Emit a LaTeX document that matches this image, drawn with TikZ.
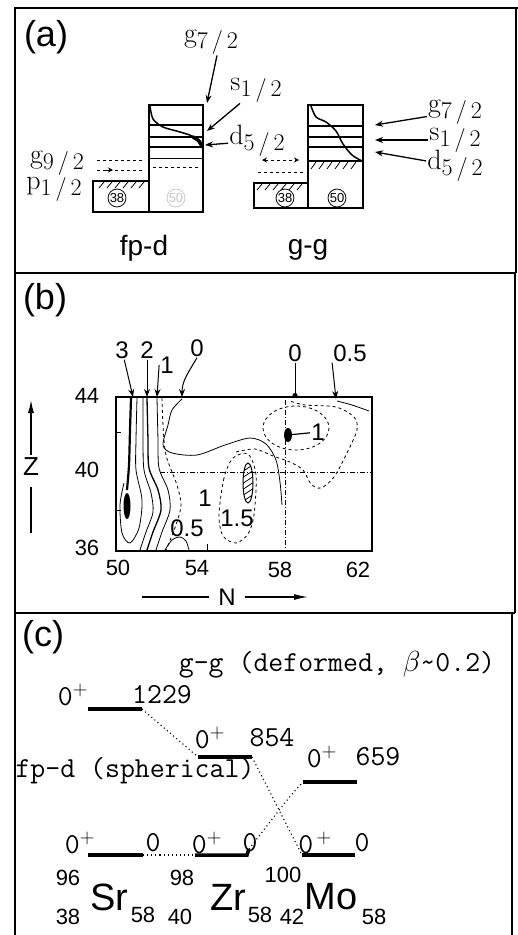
\RequirePackage{fix-cm}
\documentclass[tikz,border=0pt]{standalone}
\usepackage{fontspec}
\setsansfont{Liberation Sans}
\usetikzlibrary{arrows.meta,positioning}

\newcommand{\orbl}[2]{#1\raisebox{-0.5ex}{\fontsize{24}{24}\selectfont#2}}

\begin{document}
\begin{tikzpicture}[x=1pt,y=-1pt,
    frame/.style={line width=2pt},
    tag/.style={font=\sffamily\fontsize{36}{36}\selectfont, inner sep=0pt},
    orbtxt/.style={font=\fontsize{28}{28}\selectfont, inner sep=1pt},
    ptr/.style={-{Stealth[length=8pt,width=6pt]}, line width=1.3pt},
    shellbox/.style={line width=1.5pt},
    shell/.style={line width=2.2pt},
    nuc/.style={circle, draw, line width=0.8pt, inner sep=0.3pt, font=\sffamily\fontsize{13}{13}\selectfont},
    hatch/.style={line width=0.8pt},
    cont/.style={line width=0.8pt},
    dashdot/.style={line width=0.8pt, dash pattern=on 5pt off 2pt on 1pt off 2pt},
    num/.style={font=\sffamily\fontsize{22}{22}\selectfont, inner sep=1pt},
    tt/.style={font=\ttfamily\fontsize{29}{29}\selectfont, inner sep=0pt},
    lvl/.style={line width=3.5pt},
    link/.style={line width=1.1pt, dash pattern=on 1.1pt off 3pt},
    elem/.style={font=\sffamily\fontsize{38}{38}\selectfont, inner sep=0pt},
    mass/.style={font=\sffamily\fontsize{22}{22}\selectfont, inner sep=0pt}
]
\useasboundingbox (0,0) rectangle (518,935);

% panel frames
\draw[frame] (15,935) -- (15,8) -- (518,8);
\draw[frame] (516,8) -- (516,273);
\draw[frame] (15,273) -- (516,273);
\draw[frame] (515,273) -- (515,613);
\draw[frame] (15,613) -- (515,613);
\draw[frame] (512,613) -- (512,935);

%% (a) shell model pictures
\node[tag] (tagA) at (46,37) {(a)};

% fp-d
\draw[shellbox] (93,181) rectangle (149,212);
\draw[shellbox] (149,105) rectangle (203,212);
\draw[shell] (149,125) -- (203,125);
\draw[shell] (149,137) -- (203,137);
\draw[shell] (149,147) -- (203,147);
\draw[cont] (149,158) -- (203,158);
\draw[dashed] (97,160) -- (145,160);
\draw[dashed] (97,170) -- (145,170);
\draw[dashed] (153,167) -- (200,167);
\foreach \x in {99,107,...,139} \draw[hatch] (\x,188) -- ++(5,-6);
\draw[line width=1.5pt] plot[smooth] coordinates {(150,106) (153,119) (163,127) (180,132) (194,137) (202,147)};
\draw[line width=3.5pt, line cap=round] plot[smooth] coordinates {(193,137) (199,141) (202,147)};
\node[nuc] (n38a) at (117,198) {38};
\node[nuc, draw=gray!45, text=gray!45] (n50a) at (176,198) {50};
\coordinate (gapA) at (103,170);
\coordinate (gapB) at (113,170);
\draw[-{Stealth[length=5pt,width=5pt]}, line width=1pt] (gapA) -- (gapB);

\node[orbtxt] (g72a) at (211,42) {\orbl{g}{7\,/\,2}};
\node[orbtxt] (s12a) at (256,90) {\orbl{s}{1\,/\,2}};
\node[orbtxt] (d52a) at (257,141) {\orbl{d}{5\,/\,2}};
\node[orbtxt] (g92a) at (57,163) {\orbl{g}{9\,/\,2}};
\node[orbtxt] (p12a) at (54,189) {\orbl{p}{1\,/\,2}};
\coordinate (g72aEnd) at (207,103);
\coordinate (s12aEnd) at (207,131);
\coordinate (d52aEnd) at (205,145);
\draw[ptr] ([xshift=6pt]g72a.south) -- (g72aEnd);
\draw[ptr] (s12a) -- (s12aEnd);
\draw[ptr] (d52a) -- (d52aEnd);
\node[font=\sffamily\fontsize{28}{28}\selectfont] (fpd) at (144,248) {fp-d};

% g-g
\draw[shellbox] (254,183) rectangle (308,208);
\draw[shellbox] (308,105) rectangle (363,208);
\draw[shell] (308,126) -- (363,126);
\draw[shell] (308,137) -- (363,137);
\draw[shell] (308,147) -- (363,147);
\draw[line width=2.6pt] (308,161) -- (363,161);
\foreach \x in {311,319,...,355} \draw[hatch] (\x,169) -- ++(5,-7);
\foreach \x in {257,265,...,297} \draw[hatch] (\x,190) -- ++(5,-6);
\draw[dashed] (258,172) -- (305,172);
\coordinate (ggA) at (262,160);
\coordinate (ggB) at (299,160);
\draw[{Stealth[length=5pt,width=5pt]}-{Stealth[length=5pt,width=5pt]}, dashed, line width=1pt] (ggA) -- (ggB);
\draw[line width=1.5pt] plot[smooth] coordinates {(311,106) (316,117) (326,122) (336,131) (343,144) (352,155) (362,161)};
\node[nuc] (n38b) at (285,198) {38};
\node[nuc] (n50b) at (337,198) {50};

\node[orbtxt] (g72b) at (455,112) {\orbl{g}{7\,/\,2}};
\node[orbtxt] (s12b) at (455,140) {\orbl{s}{1\,/\,2}};
\node[orbtxt] (d52b) at (455,166) {\orbl{d}{5\,/\,2}};
\coordinate (g72bEnd) at (375,125);
\coordinate (s12bEnd) at (375,140);
\coordinate (d52bEnd) at (375,152);
\draw[ptr] (g72b) -- (g72bEnd);
\draw[ptr] (s12b) -- (s12bEnd);
\draw[ptr] (d52b) -- (d52bEnd);
\node[font=\sffamily\fontsize{28}{28}\selectfont] (gg) at (308,250) {g-g};

%% (b) contour map
\node[tag] (tagB) at (45,300) {(b)};

% grid lines
\draw[dashdot] (160,472) -- (372,472);
\draw[dashdot] (285,400) -- (285,551);
\draw[cont] (207,551) -- (207,544);
\draw[cont] (116,432) -- (121,432);
\draw[cont] (116,510) -- (121,510);

% contours
\draw[line width=2.2pt] plot[smooth] coordinates {(131,398) (130,430) (129,465) (127,490)};
\fill (127,506) ellipse (3.5 and 13);
\draw[cont] plot[smooth] coordinates {(137,398) (136,440) (136,470) (142,500) (139,528) (130,543) (122,533) (120,505) (124,483)};
\draw[cont] plot[smooth] coordinates {(143,398) (143,440) (144,470) (151,493) (153,512) (146,532) (140,550)};
\draw[line width=1.3pt] plot[smooth] coordinates {(147,398) (148,440) (149,468) (158,490) (161,510) (153,532) (147,550)};
\draw[cont] plot[smooth] coordinates {(157,398) (158,440) (159,468) (168,490) (170,510) (162,532) (156,550)};
\draw[cont, dashed] plot[smooth] coordinates {(162,398) (163,425) (166,455) (177,485) (181,505) (176,525) (166,550)};
\draw[cont] plot[smooth] coordinates {(182,399) (172,410) (168,425) (163,445) (172,453) (197,455) (225,445) (250,438) (266,444) (276,460) (280,482) (282,505)};
\draw[cont, dashed] plot[smooth] coordinates {(236,452) (255,449) (273,456) (290,462) (303,470) (311,484) (321,488) (334,477) (347,453) (357,430) (354,417) (336,407) (305,405) (290,401)};
\draw[cont, dashed] plot[smooth cycle] coordinates {(233,458) (224,478) (219,515) (223,536) (236,543) (248,534) (254,515) (256,475) (248,454)};
\draw[cont, dashed] (296,428) ellipse (33 and 22);
\draw[cont] plot[smooth] coordinates {(337,401) (352,405) (369,411)};
\draw[cont] plot[smooth] coordinates {(165,550) (172,540) (180,537) (186,541) (189,550)};

% hatched minimum and peak
\begin{scope}
  \clip (248,483) ellipse (5 and 20);
  \foreach \y in {462,468,...,504} \draw[hatch] (242,\y+4) -- (254,\y-4);
\end{scope}
\draw[line width=1pt] (248,483) ellipse (5 and 20);
\coordinate (pk) at (288,435);
\fill (pk) ellipse (4 and 7);
\node[num, font=\sffamily\fontsize{24}{24}\selectfont] (pk1) at (318,432) {1};
\draw[line width=1.2pt] (pk) -- (pk1);

\node[num, font=\sffamily\fontsize{24}{24}\selectfont] (in1) at (205,498) {1};
\node[num, font=\sffamily\fontsize{24}{24}\selectfont] (in05) at (187,528) {0.5};
\node[num, font=\sffamily\fontsize{24}{24}\selectfont] (in15) at (237,518) {1.5};

% frame of the map
\draw[line width=2pt] (116,397) rectangle (372,551);

% contour values on top
\node[num, font=\sffamily\fontsize{24}{24}\selectfont] (c3) at (122,350) {3};
\node[num, font=\sffamily\fontsize{24}{24}\selectfont] (c2) at (147,350) {2};
\node[num, font=\sffamily\fontsize{24}{24}\selectfont] (c1) at (167,365) {1};
\node[num, font=\sffamily\fontsize{24}{24}\selectfont] (c0) at (197,348) {0};
\node[num, font=\sffamily\fontsize{24}{24}\selectfont] (c0r) at (295,353) {0};
\node[num, font=\sffamily\fontsize{24}{24}\selectfont] (c05) at (350,353) {0.5};
\coordinate (t3) at (133,397);
\coordinate (t2) at (147,397);
\coordinate (t1) at (157,397);
\coordinate (t0) at (182,397);
\coordinate (t0r) at (295,398);
\coordinate (t05) at (336,399);
\draw[ptr, line width=1pt] (c3) -- (t3);
\draw[ptr, line width=1pt] (c2) -- (t2);
\draw[ptr, line width=1pt] (c1.west) -- (t1);
\draw[ptr, line width=1pt] (c0.south) to[out=-120,in=90] (t0);
\draw[-{Circle[length=5pt]}, line width=1pt] (c0r) -- (t0r);
\draw[ptr, line width=1pt] (c05.south west) -- (t05);

% axes
\node[num] (z44) at (87,396) {44};
\node[num] (z40) at (87,470) {40};
\node[num] (z36) at (87,548) {36};
\node[num] (n50) at (118,568) {50};
\node[num] (n54) at (197,568) {54};
\node[num] (n58) at (280,570) {58};
\node[num] (n62) at (358,570) {62};
\node[font=\sffamily\fontsize{26}{26}\selectfont] (zlab) at (31,467) {Z};
\coordinate (ztop) at (31,400);
\coordinate (zbot) at (31,533);
\draw[-{Latex[length=13pt,width=6pt]}, line width=1.3pt] (zlab) -- (ztop);
\draw[line width=1.3pt, shorten <=8pt] (zlab) -- (zbot);
\node[font=\sffamily\fontsize{24}{24}\selectfont] (nlab) at (227,597) {N};
\coordinate (nleft) at (142,597);
\coordinate (nright) at (308,597);
\draw[line width=1.3pt, shorten <=6pt] (nlab) -- (nleft);
\draw[-{Latex[length=14pt,width=6pt]}, line width=1.3pt, shorten <=6pt] (nlab) -- (nright);

%% (c) level scheme
\node[tag] (tagC) at (43,637) {(c)};
\node[tt] (defo) at (337,665) {g-g (deformed, $\beta$\textasciitilde0.2)};
\node[tt] (sphe) at (135,771) {fp-d (spherical)};

% levels
\coordinate (u1L) at (88,709);   \coordinate (u1R) at (142,709);
\coordinate (u2L) at (198,757);  \coordinate (u2R) at (252,757);
\coordinate (u3L) at (303,782);  \coordinate (u3R) at (357,782);
\coordinate (srL) at (88,855);   \coordinate (srR) at (143,855);
\coordinate (zrL) at (195,855);  \coordinate (zrR) at (249,849);
\coordinate (moL) at (302,855);  \coordinate (moR) at (355,855);
\draw[lvl] (u1L) -- (u1R);
\draw[lvl] (u2L) -- (u2R);
\draw[lvl] (u3L) -- (u3R);
\draw[lvl] (srL) -- (srR);
\draw[lvl] (zrL) -- (247,855) -- (zrR);
\draw[lvl] (moL) -- (moR);
\draw[link] (u1R) -- (u2L);
\draw[link] (srR) -- (zrL);
\draw[link] (zrR) .. controls (290,796) .. (u3L);
\draw[link] (u2R) -- (moL);

\node[tt] (u1s) at (73,695) {0$^+$};
\node[tt] (u1e) at (162,695) {1229};
\node[tt] (u2s) at (210,738) {0$^+$};
\node[tt] (u2e) at (272,738) {854};
\node[tt] (u3s) at (322,757) {0$^+$};
\node[tt] (u3e) at (378,757) {659};
\node[tt] (srs) at (80,843) {0$^+$};
\node[tt] (sre) at (153,843) {0};
\node[tt] (zrs) at (207,843) {0$^+$};
\node[tt] (zre) at (250,843) {0};
\node[tt] (mos) at (315,843) {0$^{\,+}$};
\node[tt] (moe) at (362,843) {0};

% nuclei
\node[mass] (srA) at (68,878) {96};
\node[mass] (srZ) at (68,917) {38};
\node[elem] (sr) at (109,897) {Sr};
\node[mass] (srN) at (143,915) {58};
\node[mass] (zrA) at (182,878) {98};
\node[mass] (zrZ) at (180,917) {40};
\node[elem] (zr) at (228,897) {Zr};
\node[mass] (zrN) at (260,915) {58};
\node[mass] (moA) at (283,875) {100};
\node[mass] (moZ) at (292,917) {42};
\node[elem] (mo) at (331,897) {Mo};
\node[mass] (moN) at (374,917) {58};

\end{tikzpicture}
\end{document}
